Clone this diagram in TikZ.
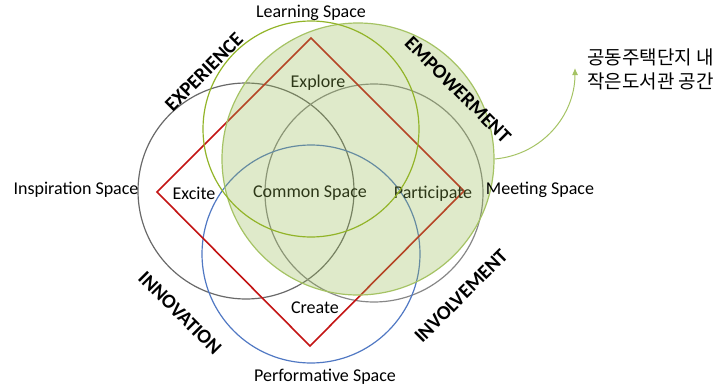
\documentclass[tikz,border=0pt]{standalone}
\usepackage{fontspec}
\usetikzlibrary{arrows.meta}
\setmainfont{Carlito}
\newfontfamily\kor{Noto Sans CJK KR}
\definecolor{grayring}{RGB}{105,105,105}
\definecolor{grayring2}{RGB}{135,135,135}
\definecolor{bluering}{RGB}{80,120,195}
\definecolor{greenring}{RGB}{146,180,40}
\definecolor{libgreen}{RGB}{150,185,80}
\definecolor{libedge}{RGB}{165,195,100}
\definecolor{diamondred}{RGB}{195,20,20}
\begin{document}
\begin{tikzpicture}[x=1pt,y=-1pt,
    ring/.style={circle,draw,line width=1.2pt,minimum size=#1,inner sep=0pt},
    word/.style={font=\fontsize{18}{21}\selectfont},
    theme/.style={font=\bfseries\fontsize{20}{24}\selectfont}]
  \useasboundingbox (0,0) rectangle (718,388);
  % the spaces
  \node[ring=216,draw=grayring] (inspire) at (246,191) {};
  \node[ring=218,draw=grayring2] (meet) at (374,193) {};
  \node[ring=218,draw=bluering] (perform) at (311,254) {};
  % the activities
  \coordinate (top) at (311,38);
  \coordinate (left) at (157,192);
  \coordinate (right) at (464,191);
  \coordinate (bottom) at (310,346);
  \draw[diamondred,line width=1.6pt] (top) -- (right) -- (bottom) -- (left) -- cycle;
  \node[word] (explore) at (318,83) {Explore};
  \node[word] (common) at (310,193) {Common Space};
  \node[word] (participate) at (433,194) {Participate};
  \node[word] (excite) at (194,193) {Excite};
  \node[word] (create) at (315,308) {Create};
  % library
  \node[ring=272,draw=libedge,fill=libgreen,fill opacity=0.3] (lib) at (358,159) {};
  \node[ring=216,draw=greenring] (learn) at (311,129) {};
  \node[word] (learnlbl) at (311,13) {Learning Space};
  \node[word] (inspirelbl) at (76,190) {Inspiration Space};
  \node[word] (meetlbl) at (540,190) {Meeting Space};
  \node[word] (performlbl) at (325,377) {Performative Space};
  \node[theme,rotate=45] (experience) at (204,72) {EXPERIENCE};
  \node[theme,rotate=-45] (empower) at (458,90) {EMPOWERMENT};
  \node[theme,rotate=-45] (innovation) at (180,313) {INNOVATION};
  \node[theme,rotate=45] (involve) at (461,296) {INVOLVEMENT};
  \node[font=\kor\fontsize{19}{24}\selectfont,align=left,anchor=north west,inner sep=0pt] (korean) at (587,49) {공동주택단지 내\\작은도서관 공간};
  \coordinate (tip) at (575,68);
  \draw[libedge,line width=1pt,-{Latex[length=7pt,width=6pt]}] (lib.east) to[out=5,in=-90] (tip);
\end{tikzpicture}
\end{document}
